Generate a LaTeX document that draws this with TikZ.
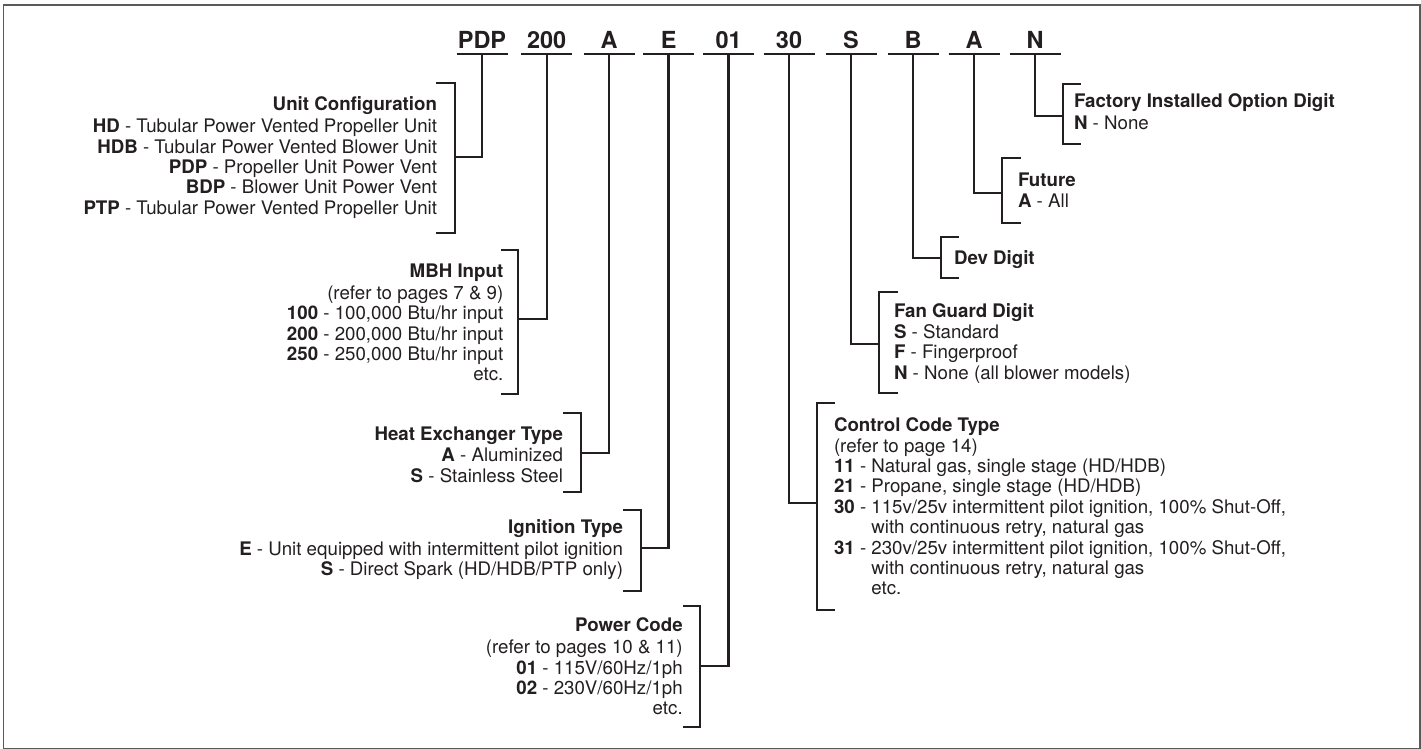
\documentclass[tikz,border=0pt]{standalone}
\usepackage{fontspec}
\setmainfont{TeX Gyre Heros}
\definecolor{ink}{HTML}{231F20}
\definecolor{frame}{HTML}{5A5A5C}
\tikzset{
  codetxt/.style={font=\fontsize{23.5}{26}\selectfont\bfseries, anchor=base, inner sep=0pt, text=ink},
  desc/.style={font=\fontsize{18.7}{20.4}\selectfont, inner sep=0pt, outer sep=0pt, text=ink},
  descL/.style={desc, align=left, anchor=north west},
  descR/.style={desc, align=right, anchor=north east},
  link/.style={line width=2.4pt, draw=ink, line join=miter},
}
\newcommand{\ttl}[1]{\rule{0pt}{14pt}\textbf{#1}}
\begin{document}
\begin{tikzpicture}[x=1pt,y=-1pt]
\useasboundingbox (0,0) rectangle (1421,749);
\draw[frame, line width=1.6pt] (3.5,5) rectangle (1420,748.5);

% code letters
\foreach \nm/\xx/\tx in {PDP/482/PDP, 200/546.7/200, A/609/A, E/668.6/E, 01/728.6/01, 30/789/30, S/851/S, B/913/B, A2/974/A, N/1035/N}{
  \node[codetxt] (c\nm) at (\xx,48.3) {\tx};
  \coordinate (s\nm) at (\xx,54);
  \draw[link] ([xshift=-25.5pt]s\nm) -- ([xshift=25.5pt]s\nm);
}

% ---- Unit Configuration
\node[descR] (tUC) at (437,96.7) {\ttl{Unit Configuration}\\[1.5pt]
  \textbf{HD} - Tubular Power Vented Propeller Unit\\
  \textbf{HDB} - Tubular Power Vented Blower Unit\\
  \textbf{PDP} - Propeller Unit Power Vent\\
  \textbf{BDP} - Blower Unit Power Vent\\
  \textbf{PTP} - Tubular Power Vented Propeller Unit};
\coordinate (jUC) at (455,157);
\draw[link] (436,83) -| (455,233) -- (436,233);
\draw[link] (sPDP) |- (jUC);

% ---- MBH Input
\node[descR] (tMBH) at (503.3,263.3) {\ttl{MBH Input}\\[1.5pt]
  (refer to pages 7 \& 9)\\
  \textbf{100} - 100,000 Btu/hr input\\
  \textbf{200} - 200,000 Btu/hr input\\
  \textbf{250} - 250,000 Btu/hr input\\
  etc.};
\coordinate (jMBH) at (518,319);
\draw[link] (501,250) -| (518,394) -- (501,394);
\draw[link] (s200) |- (jMBH);

% ---- Heat Exchanger Type
\node[descR] (tHX) at (563,426) {\ttl{Heat Exchanger Type}\\[1.5pt]
  \textbf{A} - Aluminized\\
  \textbf{S} - Stainless Steel};
\coordinate (jHX) at (581,453);
\draw[link] (563,413) -| (581,492) -- (563,492);
\draw[link] (sA) |- (jHX);

% ---- Ignition Type
\node[descR] (tIG) at (623,519.3) {\ttl{Ignition Type}\\[1.5pt]
  \textbf{E} - Unit equipped with intermittent pilot ignition\\
  \textbf{S} - Direct Spark (HD/HDB/PTP only)};
\coordinate (jIG) at (641,548);
\draw[link] (623,510) -| (641,591) -- (623,591);
\draw[link] (sE) |- (jIG);

% ---- Power Code
\node[descR] (tPC) at (682.7,617.7) {\ttl{Power Code}\\[1.5pt]
  (refer to pages 10 \& 11)\\
  \textbf{01} - 115V/60Hz/1ph\\
  \textbf{02} - 230V/60Hz/1ph\\
  etc.};
\coordinate (jPC) at (700,666);
\draw[link] (683,606) -| (700,727) -- (683,727);
\draw[link] (s01) |- (jPC);

% ---- Control Code Type
\node[descL] (tCC) at (834,417.7) {\ttl{Control Code Type}\\
  (refer to page 14)\\
  \textbf{11} - Natural gas, single stage (HD/HDB)\\
  \textbf{21} - Propane, single stage (HD/HDB)\\
  \textbf{30} - 115v/25v intermittent pilot ignition, 100\% Shut-Off,\\
  \phantom{\textbf{30} - }with continuous retry, natural gas\\
  \textbf{31} - 230v/25v intermittent pilot ignition, 100\% Shut-Off,\\
  \phantom{\textbf{31} - }with continuous retry, natural gas\\
  \phantom{\textbf{31} - }etc.};
\coordinate (jCC) at (817,503);
\draw[link] (835,403) -| (817,610) -- (835,610);
\draw[link] (s30) |- (jCC);

% ---- Fan Guard Digit
\node[descL] (tFG) at (894,303.3) {\ttl{Fan Guard Digit}\\[0.6pt]
  \textbf{S} - Standard\\
  \textbf{F} - Fingerproof\\
  \textbf{N} - None (all blower models)};
\coordinate (jFG) at (879,344);
\draw[link] (898,292) -| (879,393) -- (898,393);
\draw[link] (sS) |- (jFG);

% ---- Dev Digit
\node[descL] (tDD) at (954,250) {\ttl{Dev Digit}};
\coordinate (jDD) at (941,258);
\draw[link] (959,237) -| (941,278) -- (959,278);
\draw[link] (sB) |- (jDD);

% ---- Future
\node[descL] (tFU) at (1018,172) {\ttl{Future}\\[0.6pt]
  \textbf{A} - All};
\coordinate (jFU) at (1002,193);
\draw[link] (1021,158) -| (1002,223) -- (1021,223);
\draw[link] (sA2) |- (jFU);

% ---- Factory Installed Option Digit
\node[descL] (tFI) at (1074,94) {\ttl{Factory Installed Option Digit}\\[1.5pt]
  \textbf{N} - None};
\coordinate (jFI) at (1063,116);
\draw[link] (1081,84) -| (1063,144) -- (1081,144);
\draw[link] (sN) |- (jFI);
\end{tikzpicture}
\end{document}
